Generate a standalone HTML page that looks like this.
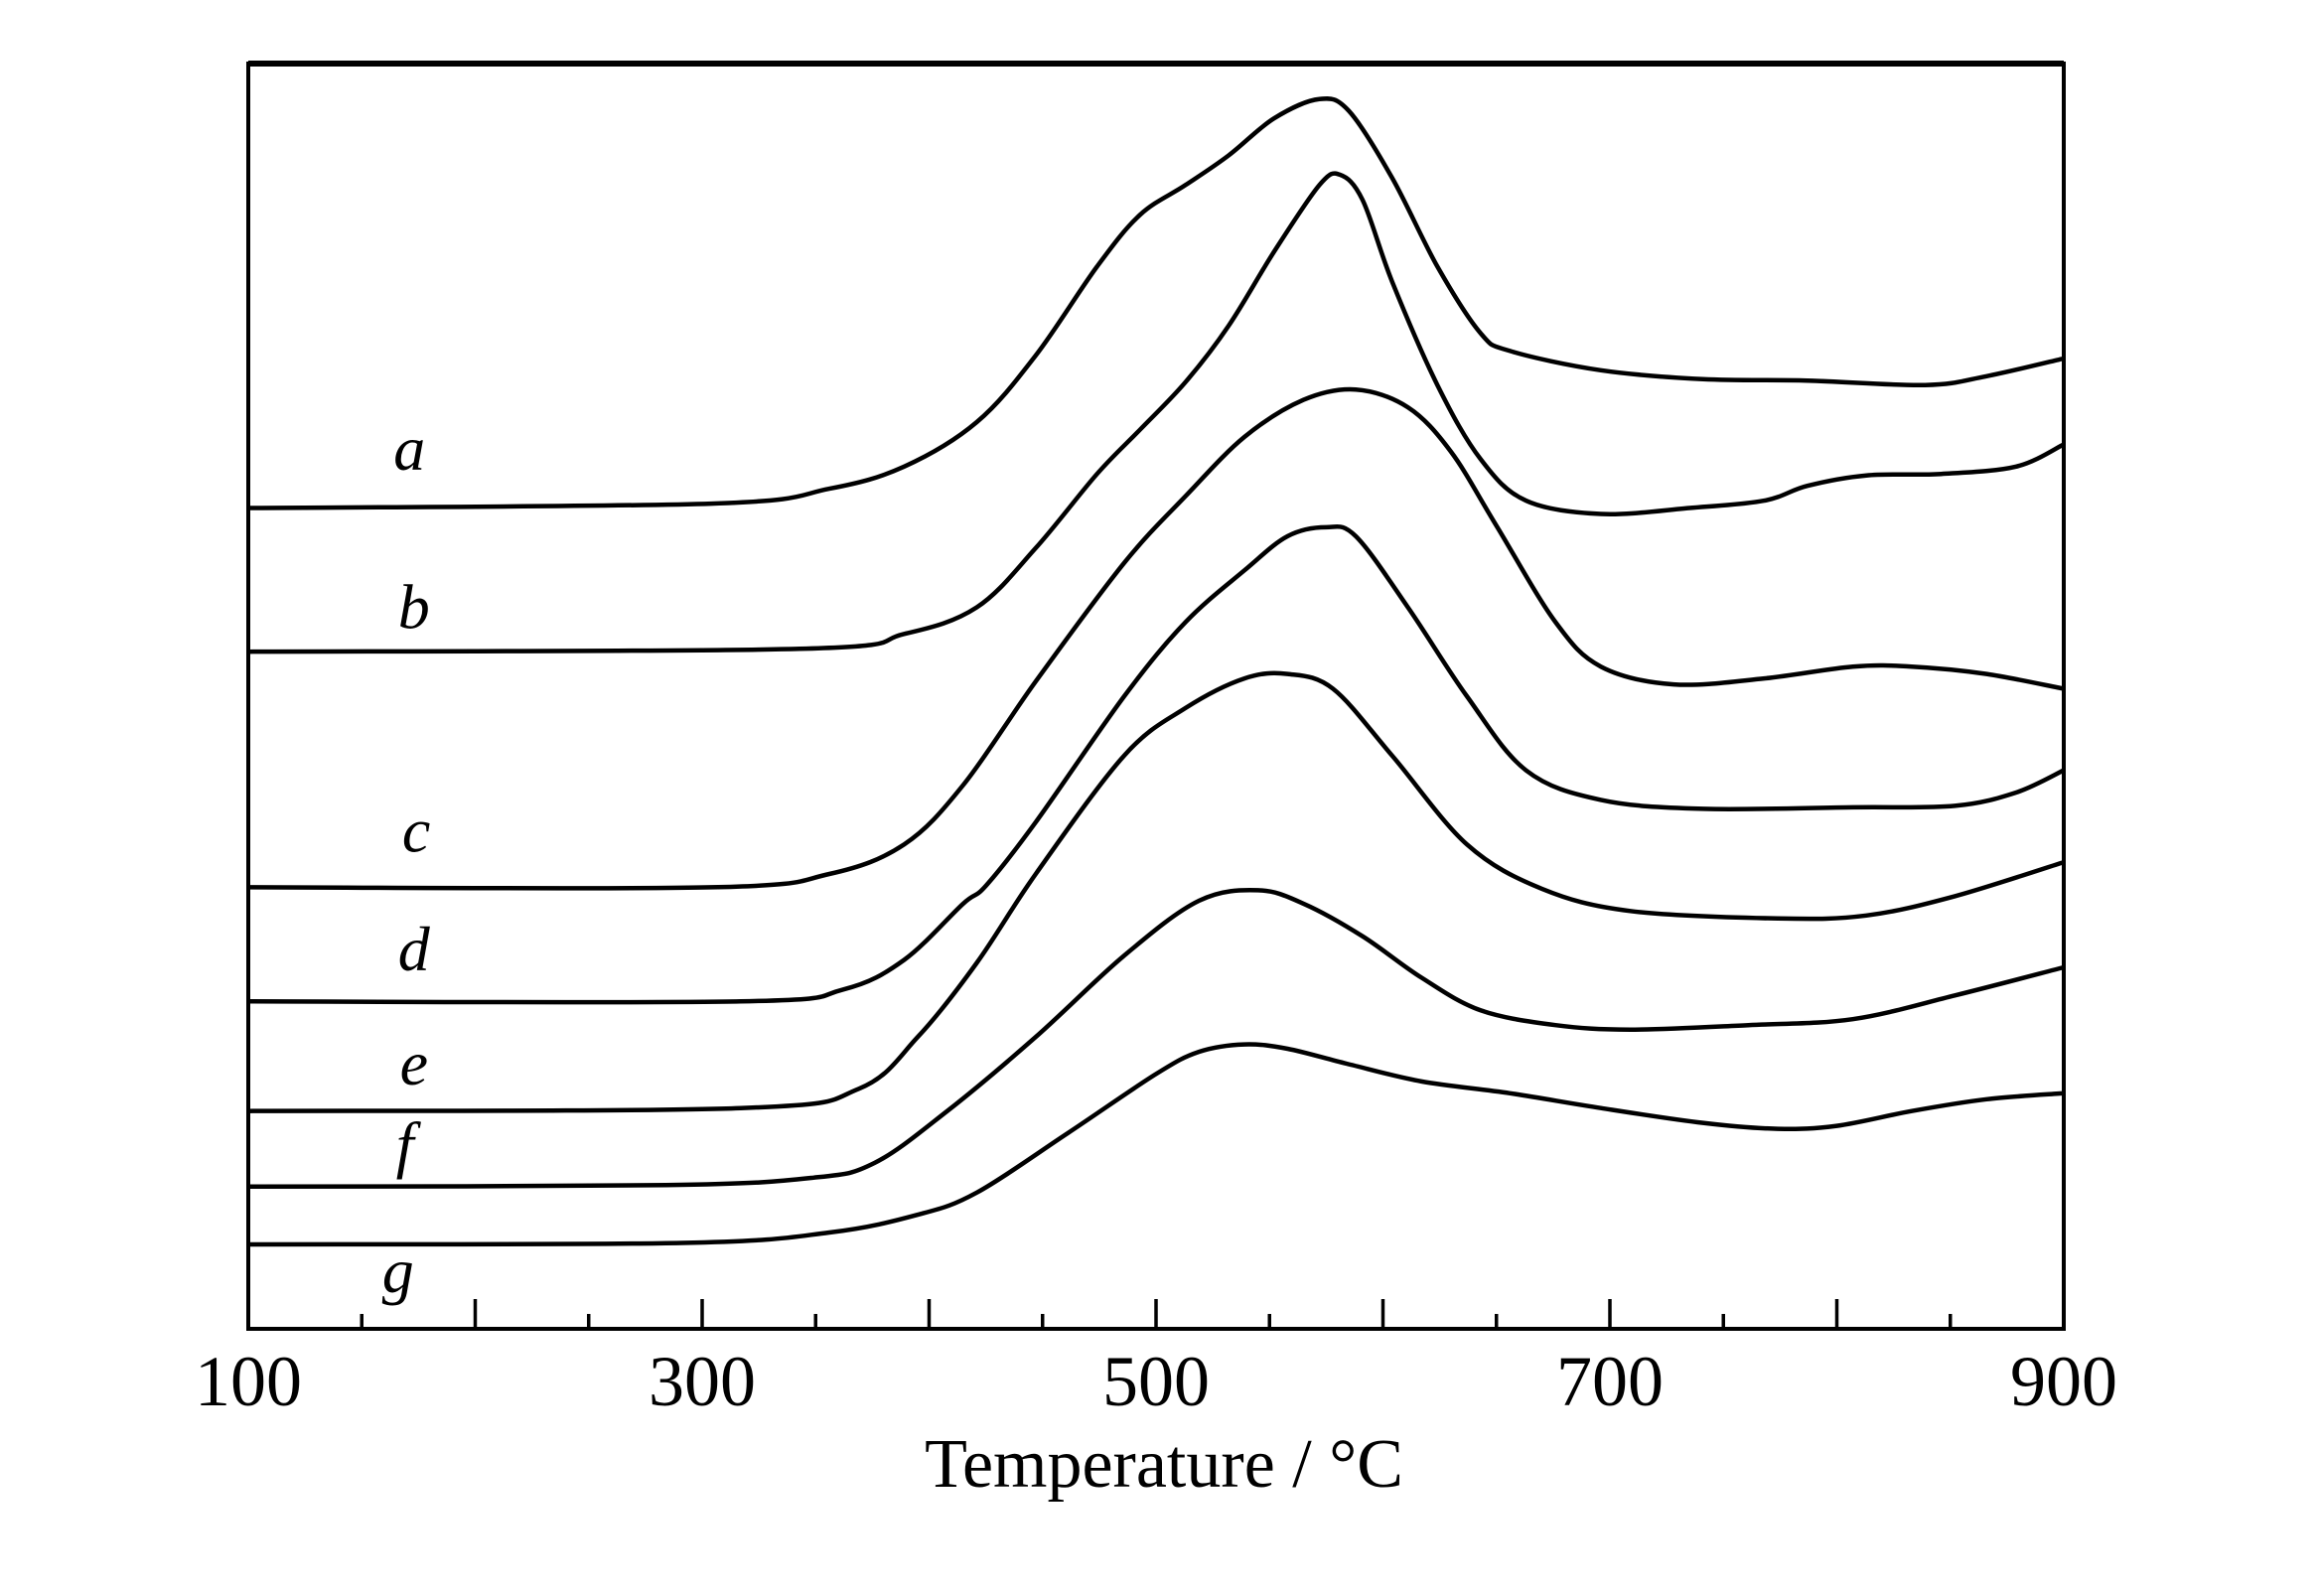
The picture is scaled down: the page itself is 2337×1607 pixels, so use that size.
<!DOCTYPE html>
<html><head><meta charset="utf-8"><style>html,body{margin:0;padding:0;background:#fff}svg{display:block}</style></head>
<body>
<svg id="chart" width="2337" height="1607" viewBox="0 0 2337 1607" xmlns="http://www.w3.org/2000/svg" font-family="Liberation Serif, serif">
<g id="curves"></g>
<rect x="250" y="64" width="1828" height="1274" fill="none" stroke="#000" stroke-width="4"/>
<line x1="250" y1="64" x2="2078" y2="64" stroke="#000" stroke-width="6"/>
<g id="ticks"></g>
<g id="labels" font-style="italic" font-size="64" text-anchor="middle"></g>
<text x="1172" y="1497" font-size="70" text-anchor="middle">Temperature / °C</text>
</svg>
<script>
const seriesNames = ['a','b','c','d','e','f','g'];
const xA = [100,304,356,389,421,447,474,493,513,532,552,572,585,604,624,643,656,696,741,787,839,866,900];
const yA = [554,557,567,582,612,657,717,752,772,792,817,830,822,777,717,672,660,647,641,640,637,643,655];
const xB = [100,343,389,421,447,474,493,513,532,552,572,581,591,604,624,643,663,696,735,768,787,813,846,879,900];
const yB = [457,459,469,487,527,577,607,639,677,727,772,779,762,707,637,587,559,550,554,559,569,576,577,582,597];
const xC = [100,304,356,389,415,447,486,513,539,565,588,611,630,650,676,696,728,768,807,833,866,900];
const yC = [298,298,307,327,367,437,517,562,602,627,634,622,592,542,477,447,435,439,447,447,442,432];
const xD = [100,317,362,389,415,425,447,486,513,539,558,575,588,611,637,663,696,741,807,852,879,900];
const yD = [221,221,229,249,287,299,342,427,477,512,535,541,535,487,427,377,357,351,352,353,362,377];
const xE = [100,317,369,395,421,447,486,513,539,558,578,604,637,670,709,774,813,852,900];
const yE = [147,149,162,197,247,307,387,419,439,442,432,387,327,297,282,277,279,292,315];
const xF = [100,284,349,376,408,447,486,519,545,565,591,617,643,676,709,761,807,852,900];
const yF = [96,97,102,112,147,197,252,289,296,287,265,237,215,205,202,205,209,225,244];
const xG = [100,291,356,395,421,461,500,519,539,558,584,617,656,696,741,774,800,833,866,900];
const yG = [57,58,65,77,92,132,172,187,192,189,179,167,159,149,139,135,137,147,155,159];
const tickMajor = [200,300,400,500,600,700,800];
const tickMinor = [150,250,350,450,550,650,750,850];
const tickLabels = [100,300,500,700,900];
const labelPos = [[171,592],[173,485],[174,334],[173,254],[173,177],[169,122],[166,37]];

const X0=250,X1=2078,Y0=1338,Y1=64;
const sx = t => X0 + (t-100)/800*(X1-X0);
const sy = v => Y0 - v/854*(Y0-Y1);
const NS='http://www.w3.org/2000/svg';
function pathFor(xs,ys){
  const p = xs.map((x,i)=>[sx(x),sy(ys[i])]);
  let d='M'+p[0][0].toFixed(1)+','+p[0][1].toFixed(1);
  for(let i=0;i<p.length-1;i++){
    const a=p[Math.max(0,i-1)],b=p[i],c=p[i+1],e=p[Math.min(p.length-1,i+2)];
    const c1=[b[0]+(c[0]-a[0])/6,b[1]+(c[1]-a[1])/6];
    const c2=[c[0]-(e[0]-b[0])/6,c[1]-(e[1]-b[1])/6];
    d+=' C'+c1.map(v=>v.toFixed(1)).join(',')+' '+c2.map(v=>v.toFixed(1)).join(',')+' '+c[0].toFixed(1)+','+c[1].toFixed(1);
  }
  return d;
}
const allX=[xA,xB,xC,xD,xE,xF,xG], allY=[yA,yB,yC,yD,yE,yF,yG];
const cg=document.getElementById('curves');
allX.forEach((xs,i)=>{
  const el=document.createElementNS(NS,'path');
  el.setAttribute('d',pathFor(xs,allY[i]));
  el.setAttribute('fill','none');el.setAttribute('stroke','#000');el.setAttribute('stroke-width','4.5');
  
  
  cg.appendChild(el);
});
const tg=document.getElementById('ticks');
function tick(t,len,name){
  const l=document.createElementNS(NS,'line');
  l.setAttribute('x1',sx(t));l.setAttribute('x2',sx(t));l.setAttribute('y1',Y0);l.setAttribute('y2',Y0-len);
  l.setAttribute('stroke','#000');l.setAttribute('stroke-width','3.5');
  
  
  tg.appendChild(l);
}
tickMajor.forEach(t=>tick(t,30,'major-tick-'+t));
tickMinor.forEach(t=>tick(t,15,'minor-tick-'+t));
tickLabels.forEach(t=>{
  const tx=document.createElementNS(NS,'text');
  tx.setAttribute('x',sx(t));tx.setAttribute('y',1415);tx.setAttribute('font-size','72');tx.setAttribute('text-anchor','middle');
  tx.textContent=t;
  
  
  tg.appendChild(tx);
});
const lg=document.getElementById('labels');
seriesNames.forEach((n,i)=>{
  const tx=document.createElementNS(NS,'text');
  tx.setAttribute('x',sx(labelPos[i][0]));tx.setAttribute('y',sy(labelPos[i][1])+18);
  tx.textContent=n;
  
  
  lg.appendChild(tx);
});
</script>
</body></html>
